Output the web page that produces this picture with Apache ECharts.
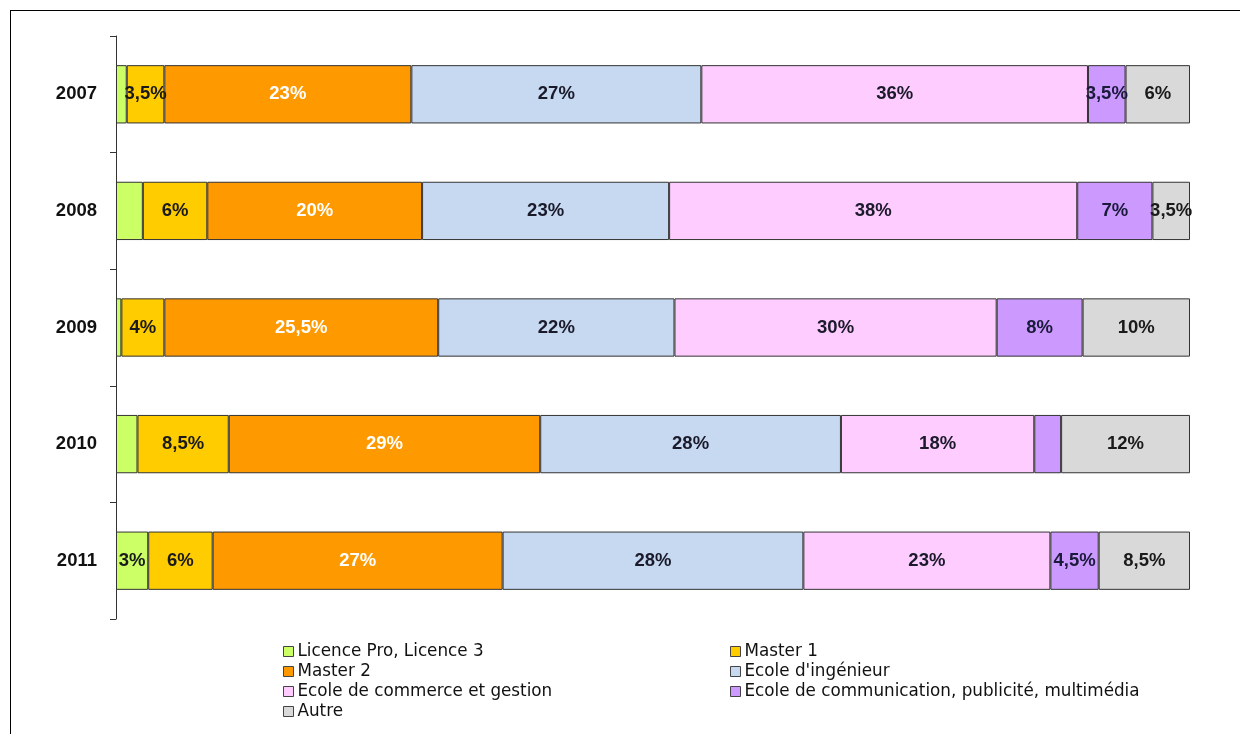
<!DOCTYPE html>
<html>
<head>
<meta charset="utf-8">
<script src="https://cdn.jsdelivr.net/npm/echarts@6/dist/echarts.min.js"></script>
<style>
  html, body { margin: 0; padding: 0; background: #fff; overflow: hidden; }
  #frame { position: absolute; left: 10px; top: 10px; width: 1300px; height: 800px;
           border-left: 1px solid #000; border-top: 1px solid #000; }
  #chart { position: absolute; left: 0; top: 0; width: 1240px; height: 734px; }
</style>
</head>
<body>
<div id="frame"></div>
<div id="chart"></div>
<script>
// années (axe vertical)
const years = ['2007', '2008', '2009', '2010', '2011']

// parts en % par formation
const licencePro = [1, 2.5, 0.5, 2, 3]
const master1 = [3.5, 6, 4, 8.5, 6]
const master2 = [23, 20, 25.5, 29, 27]
const ecoleIngenieur = [27, 23, 22, 28, 28]
const ecoleCommerce = [36, 38, 30, 18, 23]
const ecoleCommunication = [3.5, 7, 8, 2.5, 4.5]
const autre = [6, 3.5, 10, 12, 8.5]

const seriesDefs = [
  { name: 'Licence Pro, Licence 3', data: licencePro, color: '#ccff66', text: '#1a1a1a' },
  { name: 'Master 1', data: master1, color: '#ffcc00', text: '#1a1a1a' },
  { name: 'Master 2', data: master2, color: '#ff9900', text: '#ffffff' },
  { name: "Ecole d'ingénieur", data: ecoleIngenieur, color: '#c6d9f1', text: '#1a1a2a' },
  { name: 'Ecole de commerce et gestion', data: ecoleCommerce, color: '#ffccff', text: '#1a1a2a' },
  { name: 'Ecole de communication, publicité, multimédia', data: ecoleCommunication, color: '#cc99ff', text: '#1a1a3a' },
  { name: 'Autre', data: autre, color: '#d9d9d9', text: '#1a1a1a' }
]

const chart = echarts.init(document.getElementById('chart'))

// les petites valeurs (< 3 %) ne sont pas étiquetées
function fmt(p) {
  if (p.value < 3) return ''
  return String(p.value).replace('.', ',') + '%'
}

const legendBase = {
  orient: 'vertical',
  icon: 'rect',
  itemWidth: 10,
  itemHeight: 10,
  itemGap: 3,
  itemStyle: { borderColor: '#444', borderWidth: 1 },
  textStyle: { fontFamily: 'DejaVu Sans, sans-serif', fontSize: 16.8, color: '#111', lineHeight: 16, padding: [0, 0, 0, -1] },
  padding: 0,
  selectedMode: false
}

chart.setOption({
  animation: false,
  backgroundColor: 'transparent',
  grid: { left: 116, right: 50, top: 36, bottom: 115 },
  legend: [
    Object.assign({}, legendBase, {
      left: 283, top: 643,
      data: [seriesDefs[0].name, seriesDefs[2].name, seriesDefs[4].name, seriesDefs[6].name]
    }),
    Object.assign({}, legendBase, {
      left: 730, top: 643,
      data: [seriesDefs[1].name, seriesDefs[3].name, seriesDefs[5].name]
    })
  ],
  xAxis: {
    type: 'value',
    min: 0,
    max: 100,
    show: false
  },
  yAxis: {
    type: 'category',
    data: years,
    inverse: true,
    axisLine: { show: true, lineStyle: { color: '#333', width: 1 } },
    axisTick: { show: true, length: 6, lineStyle: { color: '#333' } },
    axisLabel: {
      margin: 19,
      fontFamily: 'Liberation Sans, Arial, sans-serif',
      fontWeight: 'bold',
      fontSize: 18.5,
      color: '#111'
    }
  },
  series: seriesDefs.map(s => ({
    name: s.name,
    type: 'bar',
    stack: 'total',
    barWidth: '50%',
    data: s.data,
    itemStyle: { color: s.color, borderColor: '#333', borderWidth: 1 },
    label: {
      show: true,
      position: 'inside',
      formatter: fmt,
      color: s.text,
      fontFamily: 'Liberation Sans, Arial, sans-serif',
      fontWeight: 'bold',
      fontSize: 18.5
    }
  }))
})
</script>
</body>
</html>
